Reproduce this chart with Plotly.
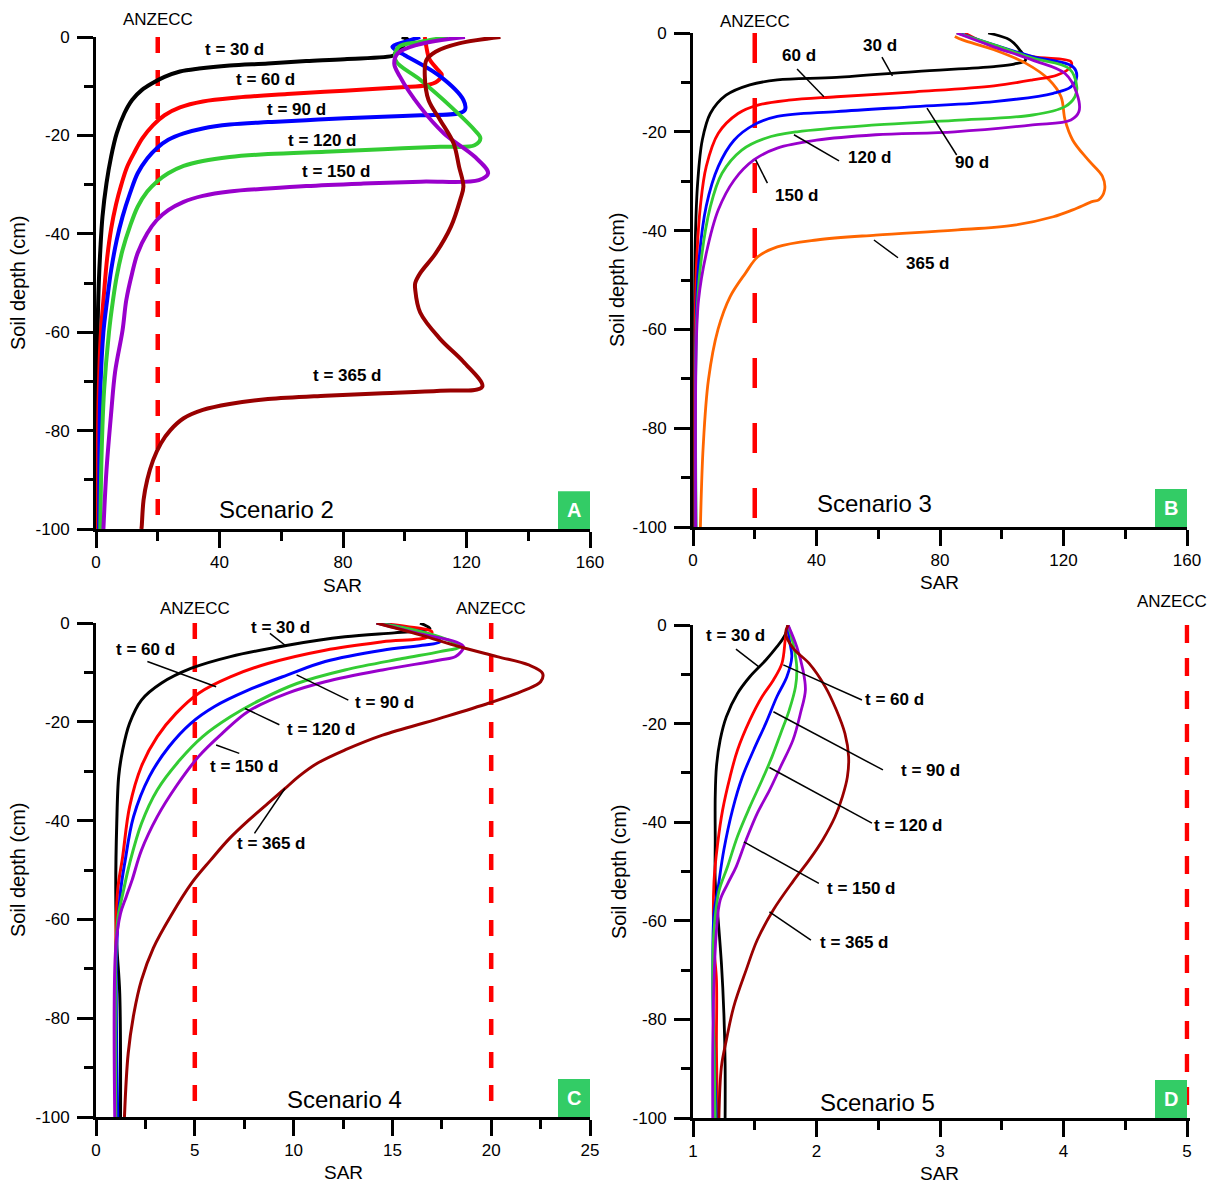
import plotly.graph_objects as go

W, H = 1218, 1185
FONT = "Arial, Liberation Sans, sans-serif"

# ---------------- Panel A : Scenario 2 ----------------
a30_sar = [99, 101, 97, 96.6, 80.5, 68.1, 55.7, 43.3, 33.4, 27.2, 22.2, 18.5, 14.8, 11.7, 9.2, 6.7, 4.9, 3.4, 2.1,
           1.4, 0.9, 0.5, 0.3, 0.3]
a30_dep = [0, -0.6, -3.2, -3.7, -4.5, -4.9, -5.4, -5.8, -6.4, -7.0, -8.1, -9.3, -10.8, -12.8, -15.5, -19.6, -24.3,
           -29.7, -36.5, -43.3, -50.1, -60, -75, -100]
a60_sar = [106.5, 107, 108, 110.5, 112, 110.5, 107, 99, 80.5, 61.9, 45.8, 34.6, 27.2, 22.2, 18.5, 15, 12.3, 10, 8.2,
           6.5, 4.9, 3.6, 2.6, 1.6, 0.9, 0.6, 0.6]
a60_dep = [0, -2, -4.5, -6.5, -7.7, -9, -9.8, -10.2, -10.9, -11.6, -12.3, -13.1, -14.3, -15.9, -17.9, -20.6, -23.6,
           -26.5, -30, -34, -39, -45, -52, -60, -72, -85, -100]
a90_sar = [105, 100, 96, 98, 100, 111.5, 119, 119.5, 117.6, 105.2, 92.9, 80.5, 68.1, 55.7, 43.3, 34.6, 28.4, 23.4,
           19.7, 16.6, 13.5, 11, 8.6, 6.7, 4.9, 3.6, 2.4, 1.4, 1.1, 1.0]
a90_dep = [0, -1, -2, -3, -3.7, -8, -12.8, -14.8, -15.5, -15.9, -16.2, -16.5, -16.9, -17.3, -17.8, -18.6, -19.6, -20.9,
           -22.6, -24.7, -27.7, -31.8, -36.5, -41.3, -47.4, -53.5, -60, -72, -85, -100]
a120_sar = [114, 105, 98, 97, 105, 115, 122.6, 124.5, 122.6, 111.5, 92.9, 74.3, 55.7, 43.3, 34.6, 28.4, 23.4, 19.7,
            16.6, 13.5, 11, 8.6, 6.7, 5.5, 4.2, 2.6, 1.8, 1.4]
a120_dep = [0, -1, -2, -4.7, -8.7, -14.2, -18.9, -20.6, -22, -22.3, -22.8, -23.3, -23.8, -24.4, -25.2, -26.2, -27.7,
            -29.4, -31.4, -34.5, -38.5, -43.3, -48.7, -53.5, -60, -72, -85, -100]
a150_sar = [119.5, 104, 97.8, 96.6, 98.4, 105, 112.7, 122.6, 127, 124, 105.2, 86.6, 68.1, 55.7, 43.3, 34.6, 28.4,
            23.4, 19.7, 16.6, 13.5, 11.7, 9.8, 8.6, 6.2, 4.9, 3.4, 2.4]
a150_dep = [0, -1.6, -3.3, -5.4, -8, -14.2, -19.6, -24.3, -27.7, -29.1, -29.4, -29.8, -30.3, -30.8, -31.4, -32.3,
            -33.5, -35.2, -37.2, -39.9, -43.9, -48, -53.5, -59.6, -68, -76.5, -88, -100]
a365_sar = [131, 117.6, 110, 107, 106.5, 107.7, 111.5, 115.8, 117.6, 119, 118, 115, 110, 105, 103.4, 103.4,
            105, 111.5, 119, 125.1, 111.5, 92.9, 74.3, 55.7, 43.3, 34.6, 28.4, 24.1, 21, 18.5, 16.6, 15.4, 14.8, 14.7]
a365_dep = [0, -1.3, -3, -4.7, -8, -12.8, -16.9, -21.6, -26.4, -30.4, -33, -38.5, -44, -48, -50, -51.4,
            -56, -61.4, -66, -71.1, -71.9, -72.4, -72.9, -73.6, -74.6, -75.8, -77.5, -79.9, -82.6, -86, -90, -94.1,
            -99.5, -100]

# ---------------- Panel B : Scenario 3 ----------------
b30_sar = [95.6, 102.6, 105.8, 107.7, 104, 97.5, 72, 46.5, 27.3, 18.4, 10.7, 5.6, 3, 1.5, 0.8, 0.5, 0.5]
b30_dep = [0, -1.4, -3.4, -5.5, -6.3, -6.8, -7.8, -9, -9.5, -10.5, -12.6, -16.3, -21.7, -30.4, -40.6, -55, -100]
b60_sar = [88, 97.5, 110, 122.4, 122.4, 118, 110, 97.5, 72, 46.5, 31, 21, 14.6, 8.2, 4.3, 2.4, 1.1, 0.7, 0.7]
b60_dep = [0, -2.8, -4.8, -5.8, -6.8, -8.5, -9.5, -10.7, -11.9, -12.9, -13.6, -14.6, -16.3, -20.3, -27, -35, -47.3, -60, -100]
b90_sar = [86, 97.5, 110, 123, 124.3, 122.4, 116.7, 97.5, 72, 46.5, 27.3, 19.7, 13.3, 8.2, 4.3, 1.8, 1.0, 0.9]
b90_dep = [0, -2.4, -4.8, -6.8, -8.8, -10.9, -12.2, -13.9, -14.9, -15.9, -16.9, -18.6, -21.7, -27, -35, -47, -60, -100]
b120_sar = [85.4, 97.5, 110, 121.8, 124.3, 123.7, 120.5, 110, 84.8, 59.2, 33.7, 23.5, 15.8, 9.4, 5.6, 2.4, 1.1, 1.0]
b120_dep = [0, -2.4, -5.1, -7.2, -10.9, -12.9, -14.9, -16.6, -17.7, -18.6, -20, -21.3, -23.7, -28.4, -35.2, -47.3, -60, -100]
b150_sar = [85.4, 97.5, 110, 120.5, 124.3, 125, 122.4, 110, 84.8, 59.2, 40, 27.3, 19.7, 13.3, 8.2, 4.3, 1.8, 1.0, 0.9]
b150_dep = [0, -2.8, -5.5, -8.2, -12.2, -15.9, -17.6, -18.6, -20, -20.6, -21.7, -23.3, -25.7, -29.8, -35.8, -44.6, -54, -65, -100]
b365_sar = [84.8, 87.3, 97.5, 107.7, 115.4, 119.2, 120.5, 123, 128, 132.6, 133.3, 131.4, 129.5, 123, 116.7, 104,
            84.8, 59.2, 40, 27.3, 21, 17, 12, 8.1, 5, 3.3, 2.4]
b365_dep = [-0.7, -1.4, -3.4, -6.1, -9.5, -12.9, -17.6, -21.7, -25.7, -29, -31.8, -33.8, -34.1, -35.8, -37.2, -38.9,
            -39.9, -40.9, -41.9, -43.3, -45.3, -48.6, -53.4, -60, -70.2, -83.7, -100]

# ---------------- Panel C : Scenario 4 ----------------
c30_sar = [16.4, 16.9, 16.2, 15.1, 12.6, 9.7, 6.8, 4.8, 3.3, 2.3, 1.7, 1.35, 1.15, 1.05, 1.0, 1.05, 1.2, 1.24]
c30_dep = [0, -1.1, -1.6, -2, -2.8, -4.5, -6.8, -9.2, -12.2, -15.6, -20.3, -25.7, -31, -40.6, -54, -65, -75, -100]
c60_sar = [14.2, 15.7, 17, 16.8, 14.5, 11.6, 8.7, 6.8, 5.2, 4.05, 3.1, 2.3, 1.7, 1.35, 1.1, 1.0, 1.0]
c60_dep = [0, -0.7, -1.8, -2.8, -3.8, -5.5, -8.2, -10.9, -14.2, -18.3, -23, -29, -37.2, -47.3, -54, -65, -100]
c90_sar = [14.2, 15.7, 17.2, 17.4, 16.5, 14.5, 11.6, 9.7, 7.7, 6, 4.8, 3.7, 2.7, 1.9, 1.45, 1.25, 1.05, 1.1]
c90_dep = [0, -1.1, -2.8, -3.8, -4.5, -5.5, -7.8, -10.5, -13.6, -16.9, -20.3, -25, -31.1, -39.2, -48.7, -54, -65, -100]
c120_sar = [14.2, 16.1, 17.8, 18.4, 17.4, 15.5, 12.6, 10.2, 8.3, 6.8, 5.4, 4.25, 3.1, 2.3, 1.7, 1.4, 1.1, 1.0, 1.0]
c120_dep = [0, -1.4, -3.4, -4.8, -5.8, -7.2, -9.5, -12.2, -15.6, -19, -23, -27.7, -33.8, -40.6, -48.7, -54, -60, -68, -100]
c150_sar = [14.2, 16.4, 18.2, 18.6, 18.2, 17.4, 14.5, 11.6, 9.7, 7.7, 6.4, 5.2, 4.05, 3.1, 2.3, 1.83, 1.53, 1.24, 1.0, 0.95]
c150_dep = [0, -2.2, -3.8, -4.8, -6.8, -7.5, -9.5, -11.9, -14.2, -17.9, -22.3, -27, -33.1, -39.2, -46, -52, -55.4, -58.8, -65.6, -100]
c365_sar = [14.2, 16.4, 18.4, 20.3, 21.9, 22.6, 22.5, 21.7, 19.9, 17.4, 14.5, 12.6, 11.2, 10.25, 9.57, 8.7, 7.73,
            6.76, 5.8, 4.83, 3.86, 2.9, 2.3, 1.92, 1.63, 1.44]
c365_dep = [0, -2.4, -4.8, -6.8, -8.5, -10.2, -11.9, -13.6, -16.2, -19.3, -22.7, -25.7, -28.4, -31.1, -33.5, -36.5, -39.9,
            -43.6, -48, -52.7, -58.8, -65.8, -72.3, -79, -87.1, -100]

# ---------------- Panel D : Scenario 5 ----------------
d30_sar = [1.76, 1.77, 1.73, 1.68, 1.59, 1.46, 1.36, 1.27, 1.22, 1.19, 1.18, 1.18, 1.18, 1.2, 1.23, 1.25, 1.26, 1.26]
d30_dep = [0, -0.3, -2.7, -4.4, -7.1, -10.5, -13.9, -18.6, -23.3, -28.7, -34.8, -43.6, -52, -58.5, -68.6, -78.8, -88.9, -100]
d60_sar = [1.77, 1.75, 1.72, 1.65, 1.56, 1.46, 1.36, 1.3, 1.24, 1.2, 1.17, 1.17, 1.19, 1.19, 1.2]
d60_dep = [0, -2.4, -7.8, -11.2, -14.5, -19.3, -25.4, -30.8, -37.5, -44.3, -52, -65.3, -72, -85.8, -100]
d90_sar = [1.77, 1.78, 1.8, 1.76, 1.68, 1.59, 1.49, 1.4, 1.32, 1.25, 1.2, 1.17, 1.16, 1.17, 1.19]
d90_dep = [0, -3, -6.4, -10.5, -14.5, -19.9, -25.4, -30.8, -37.5, -45.6, -53.8, -58.5, -72, -85.8, -100]
d120_sar = [1.77, 1.81, 1.84, 1.83, 1.78, 1.71, 1.64, 1.56, 1.46, 1.36, 1.28, 1.21, 1.17, 1.16, 1.17, 1.18]
d120_dep = [0, -3.7, -8.5, -12.5, -17.2, -22, -26.7, -31.4, -36.9, -42.9, -49, -54, -61.9, -72, -85.8, -100]
d150_sar = [1.77, 1.84, 1.89, 1.91, 1.87, 1.81, 1.71, 1.62, 1.52, 1.43, 1.35, 1.28, 1.22, 1.19, 1.17, 1.16, 1.16]
d150_dep = [0, -4.4, -9.1, -13.2, -17.9, -23.3, -28.7, -33.5, -38.2, -43.6, -49, -52.5, -55.8, -61.9, -72, -85.8, -100]
d365_sar = [1.77, 1.75, 1.81, 1.94, 2.07, 2.16, 2.23, 2.26, 2.25, 2.21, 2.15, 2.05, 1.94, 1.81, 1.65, 1.52, 1.43,
            1.33, 1.27, 1.23, 1.21]
d365_dep = [0, -1.7, -4.7, -7.8, -12.5, -17.2, -22, -26.7, -30.8, -34.8, -38.9, -43.6, -47.7, -52, -57.8, -63.9, -70,
            -77.4, -84.2, -89.6, -100]

anzecc_a = [20]
anzecc_b = [20]
anzecc_c = [5, 20]
anzecc_d = [5]

y_ticks = [-100, -80, -60, -40, -20, 0]
y_ticktext = ["-100", "-80", "-60", "-40", "-20", "0"]
C_BLACK, C_RED, C_BLUE, C_GREEN, C_PURPLE, C_DRED, C_ORANGE = (
    "#000000", "#ff0000", "#0000ff", "#33cc33", "#9900cc", "#990000", "#ff6600")
GREEN_BOX = "#33cc66"

fig = go.Figure()


def add_curve(x, y, color, width, ax):
    fig.add_trace(go.Scatter(x=x, y=y, mode="lines", xaxis="x" + ax, yaxis="y" + ax,
                             line=dict(color=color, width=width, shape="spline", smoothing=1.0),
                             cliponaxis=False, showlegend=False, hoverinfo="skip"))


def add_anzecc(xv, ax, dash):
    fig.add_trace(go.Scatter(x=[xv, xv], y=[0, -100], mode="lines", xaxis="x" + ax, yaxis="y" + ax,
                             line=dict(color="#ff0000", width=4.5, dash=dash),
                             cliponaxis=False, showlegend=False, hoverinfo="skip"))


# Panel A
for v in anzecc_a:
    add_anzecc(v, "", "16px,17px")
for xs, ys, c in [(a30_sar, a30_dep, C_BLACK), (a60_sar, a60_dep, C_RED), (a90_sar, a90_dep, C_BLUE),
                  (a120_sar, a120_dep, C_GREEN), (a150_sar, a150_dep, C_PURPLE), (a365_sar, a365_dep, C_DRED)]:
    add_curve(xs, ys, c, 4, "")
# Panel B
for v in anzecc_b:
    add_anzecc(v, "2", "30px,35px")
for xs, ys, c in [(b30_sar, b30_dep, C_BLACK), (b365_sar, b365_dep, C_ORANGE), (b60_sar, b60_dep, C_RED),
                  (b90_sar, b90_dep, C_BLUE), (b120_sar, b120_dep, C_GREEN), (b150_sar, b150_dep, C_PURPLE)]:
    add_curve(xs, ys, c, 2.8, "2")
# Panel C
for v in anzecc_c:
    add_anzecc(v, "3", "16px,17px")
for xs, ys, c in [(c30_sar, c30_dep, C_BLACK), (c60_sar, c60_dep, C_RED), (c90_sar, c90_dep, C_BLUE),
                  (c120_sar, c120_dep, C_GREEN), (c150_sar, c150_dep, C_PURPLE), (c365_sar, c365_dep, C_DRED)]:
    add_curve(xs, ys, c, 3, "3")
# Panel D
for v in anzecc_d:
    add_anzecc(v, "4", "18px,15px")
for xs, ys, c in [(d30_sar, d30_dep, C_BLACK), (d60_sar, d60_dep, C_RED), (d90_sar, d90_dep, C_BLUE),
                  (d120_sar, d120_dep, C_GREEN), (d150_sar, d150_dep, C_PURPLE), (d365_sar, d365_dep, C_DRED)]:
    add_curve(xs, ys, c, 2.8, "4")

tickfont = dict(family=FONT, size=17, color="black")


def xaxis(domain, rng, dtick, minor, tick0, anchor):
    return dict(domain=domain, range=rng, tick0=tick0, dtick=dtick, showline=True, linewidth=3,
                linecolor="black", ticks="outside", ticklen=16, tickwidth=3, tickcolor="black",
                showgrid=False, zeroline=False, tickfont=tickfont, ticklabelstandoff=0,
                automargin=False, anchor=anchor,
                minor=dict(dtick=minor, tick0=tick0, ticks="outside", ticklen=9, tickwidth=3,
                           tickcolor="black", showgrid=False),
                fixedrange=True)


def yaxis(domain, anchor):
    return dict(domain=domain, range=[-100, 0], tickvals=y_ticks, ticktext=y_ticktext, showline=True,
                linewidth=3, linecolor="black", ticks="outside", ticklen=16, tickwidth=3, tickcolor="black",
                showgrid=False, zeroline=False, tickfont=tickfont, anchor=anchor, ticklabelstandoff=4,
                automargin=False,
                minor=dict(dtick=10, tick0=0, ticks="outside", ticklen=9, tickwidth=3,
                           tickcolor="black", showgrid=False),
                fixedrange=True)


xdomL = [96 / W, 590 / W]
xdomR = [693 / W, 1187 / W]
xdomD = [693 / W, (1187 + 2.5) / W]
fig.update_layout(
    width=W, height=H, margin=dict(l=0, r=0, t=0, b=0, autoexpand=False),
    paper_bgcolor="white", plot_bgcolor="white", showlegend=False,
    xaxis=xaxis(xdomL, [0, 160], 40, 20, 0, "y"),
    yaxis=yaxis([1 - 529 / H, 1 - 37 / H], "x"),
    xaxis2=xaxis(xdomR, [0, 160], 40, 20, 0, "y2"),
    yaxis2=yaxis([1 - 527 / H, 1 - 33 / H], "x2"),
    xaxis3=xaxis(xdomL, [0, 25], 5, 2.5, 0, "y3"),
    yaxis3=yaxis([1 - 1117 / H, 1 - 623 / H], "x3"),
    xaxis4=xaxis(xdomD, [1, 5.02], 1, 0.5, 1, "y4"),
    yaxis4=yaxis([1 - 1118 / H, 1 - 625 / H], "x4"),
)

ann = []
shapes = []
bold = dict(family=FONT, size=17, color="black")

# axis titles
for (sx, sy) in [(342, 585), (940, 582), (343, 1172), (940, 1173)]:
    ann.append(dict(text="SAR", x=sx / W, y=1 - sy / H, xref="paper", yref="paper", showarrow=False,
                    xanchor="center", yanchor="middle", font=dict(family=FONT, size=19, color="black")))
for (sx, sy) in [(18, 283), (617, 280), (18, 870), (619, 872)]:
    ann.append(dict(text="Soil depth (cm)", x=sx / W, y=1 - sy / H, xref="paper", yref="paper",
                    showarrow=False, textangle=-90, xanchor="center", yanchor="middle",
                    font=dict(family=FONT, size=20, color="black")))

# ANZECC labels
for (xv, xr, py) in [(20, "x", 19), (20, "x2", 22), (5, "x3", 608), (20, "x3", 608), (4.88, "x4", 601)]:
    ann.append(dict(text="ANZECC", x=xv, y=1 - py / H, xref=xr, yref="paper", showarrow=False,
                    xanchor="center", yanchor="middle", font=dict(family=FONT, size=17, color="black")))

# scenario labels + panel letters
for (txt, sfx, dx, dy, letter, bw) in [("Scenario 2", "", 0.366, 0.039, "A", 494),
                                         ("Scenario 3", "2", 0.368, 0.047, "B", 494),
                                         ("Scenario 4", "3", 0.504, 0.036, "C", 494),
                                         ("Scenario 5", "4", 0.372, 0.032, "D", 496.5)]:
    ann.append(dict(text=txt, x=dx, y=dy, xref="x" + sfx + " domain", yref="y" + sfx + " domain",
                    showarrow=False, xanchor="center", yanchor="middle",
                    font=dict(family=FONT, size=24, color="black")))
    r = 1 - (bw - 494) / bw
    shapes.append(dict(type="rect", xref="x" + sfx + " domain", yref="y" + sfx + " domain",
                       x0=r - 32 / bw, x1=r, y0=0, y1=38 / 494, fillcolor=GREEN_BOX,
                       line=dict(width=0), layer="above"))
    ann.append(dict(text="<b>" + letter + "</b>", x=r - 16 / bw, y=19 / 494, xref="x" + sfx + " domain",
                    yref="y" + sfx + " domain", showarrow=False, xanchor="center", yanchor="middle",
                    font=dict(family=FONT, size=20, color="white")))

# curve labels, panel A
for (t, x, y) in [("t = 30 d", 45, -2.6), ("t = 60 d", 55, -8.7), ("t = 90 d", 64.8, -14.8),
                  ("t = 120 d", 73.3, -21.1), ("t = 150 d", 78, -27.4), ("t = 365 d", 81.6, -68.7)]:
    ann.append(dict(text="<b>" + t + "</b>", x=x, y=y, xref="x", yref="y", showarrow=False,
                    xanchor="center", yanchor="middle", font=bold))

# panel B labels with leaders
for (t, x, y, l) in [("30 d", 60.6, -2.6, (61.2, -4.9, 64.6, -8.7)),
                     ("60 d", 34.3, -4.5, (33.7, -7.3, 42.4, -12.9)),
                     ("90 d", 90.4, -26.3, (75.8, -15.2, 85.4, -24.7)),
                     ("120 d", 57.3, -25.3, (32.7, -20.6, 47.3, -25.9)),
                     ("150 d", 33.4, -32.8, (20.3, -25.7, 24.1, -30.4)),
                     ("365 d", 75.8, -46.6, (58.6, -41.9, 66.4, -45.5))]:
    ann.append(dict(text="<b>" + t + "</b>", x=x, y=y, xref="x2", yref="y2", showarrow=False,
                    xanchor="center", yanchor="middle", font=bold))
    shapes.append(dict(type="line", xref="x2", yref="y2", x0=l[0], y0=l[1], x1=l[2], y1=l[3],
                       line=dict(color="black", width=1.5)))

# panel C labels with leaders
for (t, x, y, l) in [("t = 30 d", 9.36, -1.0, (8.8, -2.1, 9.57, -4.5)),
                     ("t = 60 d", 2.53, -5.3, (2.6, -7.8, 6.08, -12.9)),
                     ("t = 90 d", 14.6, -16.0, (10.15, -10.5, 12.77, -15.6)),
                     ("t = 120 d", 11.4, -21.5, (7.54, -17.3, 9.28, -20.6)),
                     ("t = 150 d", 7.54, -29.0, (6.08, -24.7, 7.25, -26.4)),
                     ("t = 365 d", 8.86, -44.7, (9.56, -33.5, 8.02, -42.6))]:
    ann.append(dict(text="<b>" + t + "</b>", x=x, y=y, xref="x3", yref="y3", showarrow=False,
                    xanchor="center", yanchor="middle", font=bold))
    shapes.append(dict(type="line", xref="x3", yref="y3", x0=l[0], y0=l[1], x1=l[2], y1=l[3],
                       line=dict(color="black", width=1.5)))

# panel D labels with leaders
for (t, x, y, l) in [("t = 30 d", 1.348, -2.2, (1.348, -4.9, 1.539, -8.6)),
                     ("t = 60 d", 2.628, -15.2, (1.731, -8.1, 2.368, -15.2)),
                     ("t = 90 d", 2.919, -29.6, (1.651, -17.6, 2.538, -29.4)),
                     ("t = 120 d", 2.741, -40.6, (1.619, -28.9, 2.449, -40.2)),
                     ("t = 150 d", 2.368, -53.5, (1.412, -44.0, 2.019, -52.4)),
                     ("t = 365 d", 2.304, -64.3, (1.619, -58.2, 1.955, -63.9))]:
    ann.append(dict(text="<b>" + t + "</b>", x=x, y=y, xref="x4", yref="y4", showarrow=False,
                    xanchor="center", yanchor="middle", font=bold))
    shapes.append(dict(type="line", xref="x4", yref="y4", x0=l[0], y0=l[1], x1=l[2], y1=l[3],
                       line=dict(color="black", width=1.5)))

fig.update_layout(annotations=ann, shapes=shapes)
fig.write_html("out.html")
